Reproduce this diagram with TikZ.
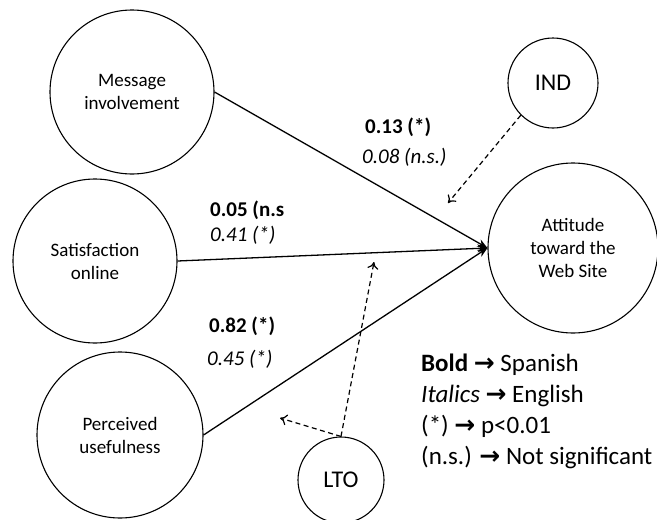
\documentclass[tikz,border=0pt]{standalone}
\usepackage{fontspec}
\setmainfont{Carlito}
\newfontfamily\arrfont{DejaVu Sans}
\usetikzlibrary{arrows.meta}
\newcommand{\arr}{{\arrfont\bfseries\char"2192}}
\tikzset{
var/.style={
  draw,circle,inner sep=0pt,line width=1.1pt,align=center,
  font=\fontsize{19}{23}\selectfont},
modv/.style={
  draw,circle,inner sep=0pt,line width=1.1pt,
  font=\fontsize{24}{28}\selectfont},
coef/.style={anchor=west,inner sep=0pt,font=\fontsize{21}{25}\selectfont},
eff/.style={line width=1.3pt,-{Stealth[length=10pt,width=8pt]}},
modarr/.style={line width=1.2pt,dash pattern=on 5pt off 3.5pt,
  -{To[length=7pt,width=11pt,line width=1.2pt]}}}

\begin{document}
\begin{tikzpicture}[x=1pt,y=-1pt]
\useasboundingbox (0,0) rectangle (657,520);
\node[var,minimum size=164pt] (msg) at (132,92) {Message\\involvement};
\node[var,minimum size=164pt] (sat) at (95,261) {Satisfaction\\online};
\node[var,minimum size=166pt] (use) at (120,435) {Perceived\\usefulness};
\node[var,minimum size=170pt] (att) at (573,248) {Attitude\\toward the\\Web Site};
\node[modv,minimum size=90pt] (ind) at (553,83) {IND};
\node[modv,minimum size=86pt] (lto) at (341,480) {LTO};

\draw[eff] (msg.east) -- (att.west);
\draw[eff] (sat.east) -- (att.west);
\draw[eff] (use.east) -- (att.west);

\coordinate (indT) at (448,203);
\coordinate (ltoT1) at (374,262);
\coordinate (ltoT2) at (280,418);
\draw[modarr] (ind.225) -- (indT);
\draw[modarr] (lto.north) -- (ltoT1);
\draw[modarr] (lto.north) -- (ltoT2);

\node[coef] (b1) at (365,127) {\textbf{0.13 (*)}};
\node[coef] (i1) at (362,157) {\textit{0.08 (n.s.)}};
\node[coef] (b2) at (210,210) {\textbf{0.05 (n.s}};
\node[coef] (i2) at (210,235) {\textit{0.41 (*)}};
\node[coef] (b3) at (209,326) {\textbf{0.82 (*)}};
\node[coef] (i3) at (207,359) {\textit{0.45 (*)}};

\node[anchor=west,inner sep=0pt,align=left,font=\fontsize{25}{31}\selectfont] (key) at (421,411)
  {\textbf{Bold} \arr\ Spanish\\ \textit{Italics} \arr\ English\\ (*) \arr\ p<0.01\\ (n.s.) \arr\ Not significant};
\end{tikzpicture}
\end{document}
